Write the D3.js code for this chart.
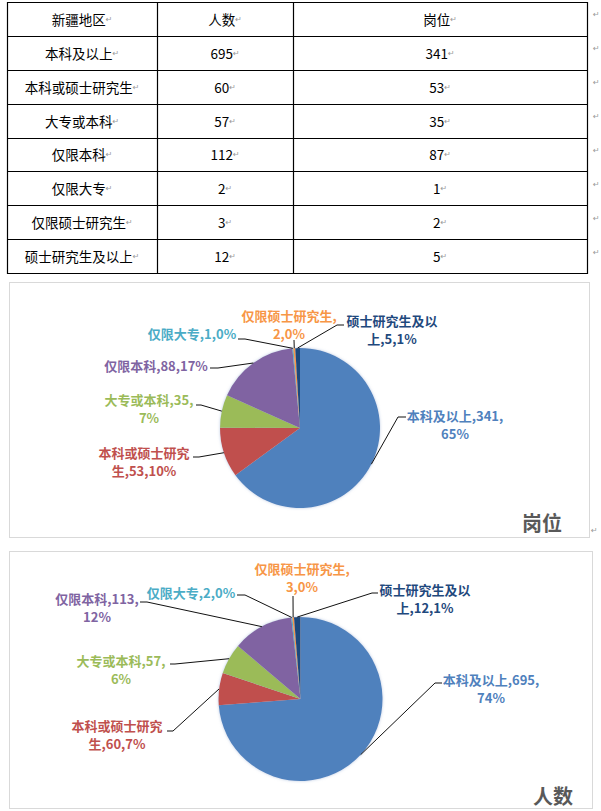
<!DOCTYPE html>
<html><head><meta charset="utf-8">
<script src="https://cdn.jsdelivr.net/npm/d3@7"></script>
<style>body{margin:0;background:#fff}svg{display:block}</style>
</head><body>
<svg id="c" width="601" height="811"></svg>
<script>
// ---------- data ----------
const categories = ["本科及以上","本科或硕士研究生","大专或本科","仅限本科","仅限大专","仅限硕士研究生","硕士研究生及以上"];
const tableHeader = ["新疆地区","人数","岗位"];
const tablePeople = [695,60,57,112,2,3,12];
const tablePosts  = [341,53,35,87,1,2,5];
const piePostsValues  = [341,53,35,88,1,2,5];
const piePeopleValues = [695,60,57,113,2,3,12];
const pieTitles = ["岗位","人数"];
const sliceColors = ["#4F81BD","#C0504D","#9BBB59","#8064A2","#4BACC6","#F79646","#1F497D"];
const labelColors = ["#4F81BD","#C0504D","#9BBB59","#8064A2","#4BACC6","#F79646","#1F497D"];
// line-break positions (chars on first label line, 0 = single line)
const postsBreaks  = [10,7,9,0,0,8,7];
const peopleBreaks = [10,7,9,9,0,8,7];

// ---------- layout ----------
const svg = d3.select("#c");
svg.append("rect").attr("width",601).attr("height",811).attr("fill","#fff");
const FONT = "'Noto Sans CJK SC','Noto Sans',sans-serif";
const RET = "\u21B5";

// table
const colX = [7,157,293,587];
const rowY = d3.scaleLinear().domain([0,8]).range([2,273]);
const tbl = svg.append("g");
const rows = [tableHeader].concat(categories.map((c,i)=>[c, String(tablePeople[i]), String(tablePosts[i])]));
rows.forEach((r,ri)=>{
  r.forEach((txt,ci)=>{
    const t = tbl.append("text")
      .attr("x",(colX[ci]+colX[ci+1])/2)
      .attr("y",(rowY(ri)+rowY(ri+1))/2)
      .attr("dominant-baseline","central")
      .attr("text-anchor","middle")
      .attr("font-family",FONT).attr("font-size",13.5).attr("fill","#000");
    t.append("tspan").text(txt);
    t.append("tspan").text(RET).attr("fill","#999").attr("font-size",8).attr("font-family","DejaVu Sans");
  });
  tbl.append("text").attr("x",593).attr("y",(rowY(ri)+rowY(ri+1))/2-4)
    .attr("dominant-baseline","central").attr("font-size",8).attr("fill","#999")
    .attr("font-family","DejaVu Sans").text(RET);
});
d3.range(9).forEach(i=>{
  tbl.append("line").attr("x1",colX[0]).attr("x2",colX[3]).attr("y1",Math.round(rowY(i))+0.5).attr("y2",Math.round(rowY(i))+0.5)
    .attr("stroke","#000").attr("stroke-width",1.2);
});
colX.forEach(x=>{
  tbl.append("line").attr("x1",x+0.5).attr("x2",x+0.5).attr("y1",rowY(0)).attr("y2",rowY(8)+1)
    .attr("stroke","#000").attr("stroke-width",1.2);
});

// glow filter
const defs = svg.append("defs");
const f = defs.append("filter").attr("id","glow").attr("x","-10%").attr("y","-10%").attr("width","120%").attr("height","120%");
f.append("feGaussianBlur").attr("in","SourceAlpha").attr("stdDeviation",1.8).attr("result","b");
f.append("feFlood").attr("flood-color","#9fb4d6").attr("flood-opacity",0.7);
f.append("feComposite").attr("in2","b").attr("operator","in").attr("result","s");
const fm = f.append("feMerge"); fm.append("feMergeNode").attr("in","s"); fm.append("feMergeNode").attr("in","SourceGraphic");

// pies
const pieCharts = [
  {values:piePostsValues, breaks:postsBreaks, title:pieTitles[0],
   box:[9.5,282.5,580,255], cx:300, cy:428, r:80, tx:562, ty:522,
   labels:[
     {x:455,y:415,ax:406,ay:417,dx:-8},
     {x:144,y:452,ax:193,ay:457,dx:6},
     {x:149,y:399,ax:196,ay:405,dx:5},
     {x:156,y:365,ax:210,ay:368,dx:8},
     {x:192,y:333,ax:238,ay:339,dx:7},
     {x:289,y:315,ax:294,ay:340,dx:0},
     {x:392,y:320,ax:344,ay:325,dx:-7}
   ]},
  {values:piePeopleValues, breaks:peopleBreaks, title:pieTitles[1],
   box:[9.5,551.5,583,257], cx:300.5, cy:699, r:82, tx:573, ty:795,
   labels:[
     {x:491,y:679,ax:442,ay:683,dx:-7},
     {x:117,y:725,ax:167,ay:731,dx:6},
     {x:121,y:660,ax:170,ay:664,dx:5},
     {x:97,y:598,ax:140,ay:602,dx:7},
     {x:191,y:592,ax:237,ay:595,dx:8},
     {x:302,y:568,ax:293,ay:596,dx:0},
     {x:425,y:589,ax:378,ay:593,dx:-6}
   ]}
];

function pctLargestRemainder(vals){
  const tot = d3.sum(vals);
  const raw = vals.map(v=>v/tot*100);
  const fl = raw.map(Math.floor);
  let rem = 100 - d3.sum(fl);
  const order = d3.range(vals.length).sort((a,b)=>(raw[b]-fl[b])-(raw[a]-fl[a]));
  for(let k=0;k<rem;k++) fl[order[k]]++;
  return fl;
}

pieCharts.forEach(pc=>{
  const g = svg.append("g");
  g.append("rect").attr("x",pc.box[0]).attr("y",pc.box[1]).attr("width",pc.box[2]).attr("height",pc.box[3])
    .attr("fill","#fff").attr("stroke","#d9d9d9").attr("stroke-width",1);
  const pie = d3.pie().sort(null).value(d=>d);
  const arcs = pie(pc.values);
  const arc = d3.arc().innerRadius(0).outerRadius(pc.r);
  const pg = g.append("g").attr("transform",`translate(${pc.cx},${pc.cy})`).attr("filter","url(#glow)");
  pg.selectAll("path").data(arcs).enter().append("path")
    .attr("d",arc).attr("fill",(d,i)=>sliceColors[i]);
  const pcts = pctLargestRemainder(pc.values);
  // leader lines
  const line = d3.line();
  arcs.forEach((a,i)=>{
    const L = pc.labels[i];
    const m = (a.startAngle+a.endAngle)/2;
    const p = [pc.cx + pc.r*Math.sin(m), pc.cy - pc.r*Math.cos(m)];
    const pts = L.dx ? [p,[L.ax+L.dx,L.ay],[L.ax,L.ay]] : [p,[L.ax,L.ay]];
    g.append("path").attr("d",line(pts)).attr("fill","none").attr("stroke","#111").attr("stroke-width",1);
  });
  // labels
  arcs.forEach((a,i)=>{
    const L = pc.labels[i];
    const full = `${categories[i]},${pc.values[i]},${pcts[i]}%`;
    const br = pc.breaks[i];
    const lines = br ? [full.slice(0,br), full.slice(br)] : [full];
    const t = g.append("text").attr("text-anchor","middle").attr("font-family",FONT)
      .attr("font-size",13).attr("font-weight","bold").attr("fill",labelColors[i]);
    lines.forEach((s,k)=>{
      t.append("tspan").attr("x",L.x).attr("y",L.y+k*18).attr("dominant-baseline","central").text(s);
    });
  });
  g.append("text").attr("x",pc.tx).attr("y",pc.ty).attr("text-anchor","end").attr("dominant-baseline","central")
    .attr("font-family",FONT).attr("font-size",20).attr("font-weight","bold").attr("fill","#595959").text(pc.title);
});
svg.append("text").attr("x",591).attr("y",533).attr("font-size",8).attr("fill","#999").attr("font-family","DejaVu Sans").text(RET);
</script>
</body></html>
